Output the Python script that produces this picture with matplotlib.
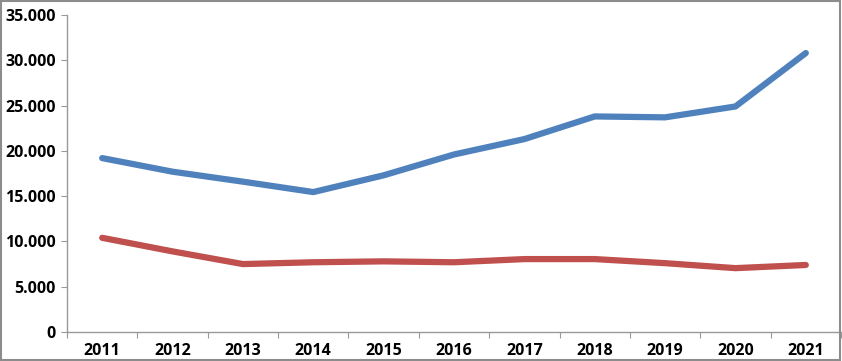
import matplotlib.pyplot as plt
import numpy as np
from matplotlib.patches import Rectangle
from matplotlib.ticker import FuncFormatter, FixedLocator

years = ["2011", "2012", "2013", "2014", "2015", "2016", "2017", "2018", "2019", "2020", "2021"]
blue = [19200, 17700, 16600, 15450, 17300, 19600, 21300, 23800, 23700, 24900, 30800]
red = [10400, 8900, 7500, 7700, 7800, 7700, 8050, 8050, 7600, 7050, 7400]

plt.rcParams["font.family"] = ["Open Sans", "DejaVu Sans"]

fig = plt.figure(figsize=(8.42, 3.61), dpi=100)
ax = fig.add_axes([67 / 842, 29 / 361, 774 / 842, 317 / 361])

x = np.arange(len(years))
ax.plot(x, blue, color="#4F81BD", lw=4.5, solid_capstyle="round", solid_joinstyle="round")
ax.plot(x, red, color="#C0504D", lw=4.5, solid_capstyle="round", solid_joinstyle="round")

ax.set_xlim(-0.5, len(years) - 0.5)
ax.set_ylim(0, 35000)
ax.set_yticks(np.arange(0, 35001, 5000))
ax.yaxis.set_major_formatter(FuncFormatter(lambda v, p: f"{int(v):,}".replace(",", ".")))

# category labels centred, ticks between categories
ax.xaxis.set_major_locator(FixedLocator(np.arange(-0.5, len(years), 1)))
ax.xaxis.set_minor_locator(FixedLocator(x))
ax.set_xticklabels([])
ax.set_xticklabels(years, minor=True)
ax.tick_params(axis="x", which="minor", length=0, pad=8)
ax.tick_params(axis="x", which="major", length=4, color="#999999")
ax.tick_params(axis="y", length=4, color="#999999", pad=4)

for lab in ax.get_xticklabels(minor=True) + ax.get_yticklabels():
    lab.set_fontsize(11.5)
    lab.set_fontweight("bold")

for s in ["top", "right"]:
    ax.spines[s].set_visible(False)
for s in ["left", "bottom"]:
    ax.spines[s].set_color("#999999")
    ax.spines[s].set_linewidth(1)

fig.patches.append(Rectangle((0.001, 0.002), 0.997, 0.995, transform=fig.transFigure,
                             fill=False, edgecolor="#8c8c8c", lw=1.5))

fig.savefig("out.png", dpi=100)
